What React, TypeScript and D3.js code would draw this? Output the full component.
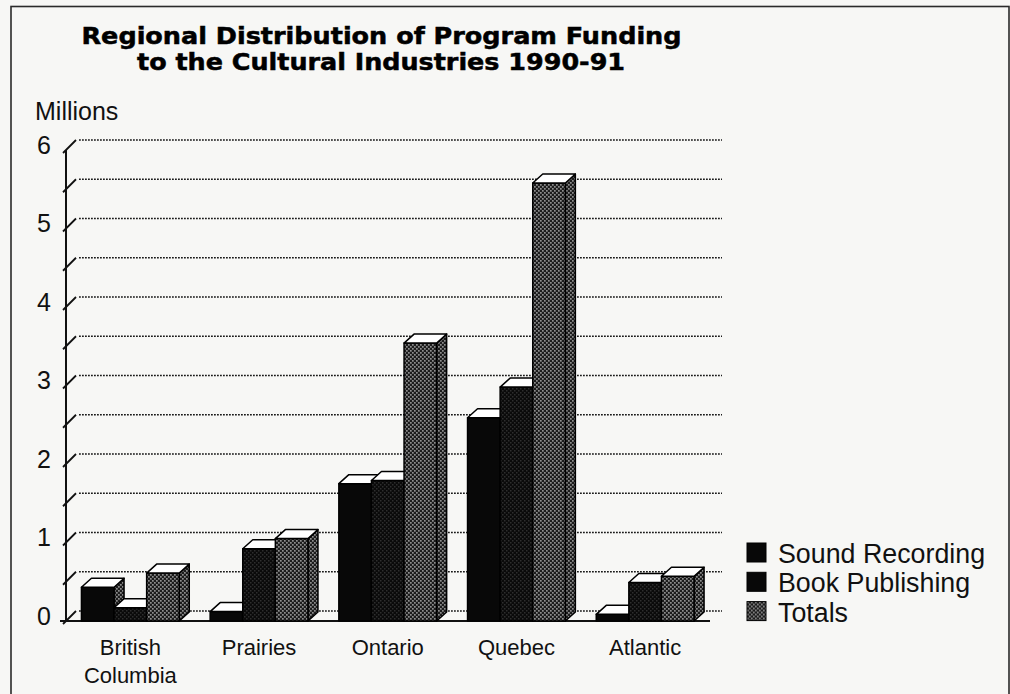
import React from "react";
import * as d3 from "d3";

// Funding by region, in millions of dollars
const regions = ["British Columbia", "Prairies", "Ontario", "Quebec", "Atlantic"];
const regionLines = [["British", "Columbia"], ["Prairies"], ["Ontario"], ["Quebec"], ["Atlantic"]];
const seriesNames = ["Sound Recording", "Book Publishing", "Totals"];
const soundRecording = [0.43, 0.12, 1.75, 2.59, 0.085];
const bookPublishing = [0.17, 0.92, 1.79, 2.98, 0.49];
const totals = [0.61, 1.05, 3.54, 5.58, 0.57];
const yTickLabels = [0, 1, 2, 3, 4, 5, 6];
const gridSteps = d3.range(0, 6.01, 0.5);

const W = 1010;
const H = 694;
const FONT = "'Liberation Sans', Arial, Helvetica, sans-serif";

export default function App() {
  const baseY = 621;
  const x = d3
    .scaleBand<string>()
    .domain(regions)
    .range([66, 709.5])
    .paddingInner(0.24)
    .paddingOuter(0.12);
  const xs = d3.scaleBand<string>().domain(seriesNames).range([0, x.bandwidth()]);
  const y = d3.scaleLinear().domain([0, 6]).range([baseY, 150]);

  const values = [soundRecording, bookPublishing, totals];
  const fronts = ["#080808", "url(#bookPat)", "url(#dotPat)"];
  const sides = ["url(#dotPat)", "url(#dotPat)", "url(#dotPat)"];

  // depth offsets for the oblique 3-D look
  const bdx = 10;
  const bdy = 9;
  const wdx = 11;
  const wdy = 10;

  const bars: { key: string; x0: number; w: number; v: number; s: number }[] = [];
  regions.forEach((r, i) => {
    seriesNames.forEach((s, j) => {
      bars.push({ key: r + s, x0: (x(r) as number) + (xs(s) as number), w: xs.bandwidth(), v: values[j][i], s: j });
    });
  });

  const axisX = 66;

  return (
    <svg width={W} height={H} style={{ position: "absolute", left: 0, top: 0 }}>
      <defs>
        <pattern id="dotPat" width="4" height="4" patternUnits="userSpaceOnUse">
          <rect width="4" height="4" fill="#1c1c1c" />
          <rect x="0" y="0" width="1.7" height="1.7" fill="#8e8e8e" />
          <rect x="2" y="2" width="1.7" height="1.7" fill="#8e8e8e" />
        </pattern>
        <pattern id="bookPat" width="4" height="4" patternUnits="userSpaceOnUse">
          <rect width="4" height="4" fill="#0a0a0a" />
          <rect x="0" y="0" width="1.5" height="1.5" fill="#2e2e2e" />
          <rect x="2" y="2" width="1.5" height="1.5" fill="#2e2e2e" />
        </pattern>
      </defs>
      <rect width={W} height={H} fill="#f7f7f5" />
      <rect x={11} y={6.5} width={998} height={700} fill="none" stroke="#2a2a2a" strokeWidth={1.6} />

      {/* title */}
      <text x={381.5} y={44} textAnchor="middle" fontFamily="'DejaVu Sans', sans-serif" fontWeight="bold" fontSize={22.5}
        textLength={600} lengthAdjust="spacingAndGlyphs" fill="#000" stroke="#000" strokeWidth={0.5}>
        Regional Distribution of Program Funding
      </text>
      <text x={381} y={70} textAnchor="middle" fontFamily="'DejaVu Sans', sans-serif" fontWeight="bold" fontSize={22.5}
        textLength={488} lengthAdjust="spacingAndGlyphs" fill="#000" stroke="#000" strokeWidth={0.5}>
        to the Cultural Industries 1990-91
      </text>

      {/* axis unit */}
      <text x={35} y={120} fontFamily={FONT} fontSize={25} fill="#111">Millions</text>

      {/* back-wall gridlines */}
      {gridSteps.map((v) => (
        <line key={"g" + v} x1={axisX + wdx + 2} x2={722} y1={y(v) - wdy} y2={y(v) - wdy}
          stroke="#1a1a1a" strokeWidth={1.6} strokeDasharray="1.8 1.2" />
      ))}

      {/* y axis with slanted ticks */}
      <line x1={axisX} x2={axisX} y1={baseY} y2={y(6)} stroke="#111" strokeWidth={2} />
      {gridSteps.map((v) => (
        <line key={"t" + v} x1={axisX - 3} y1={y(v) + 3} x2={axisX + wdx - 1} y2={y(v) - wdy}
          stroke="#111" strokeWidth={1.8} />
      ))}
      {yTickLabels.map((v) => (
        <text key={"l" + v} x={51} y={y(v) - 5} dy="0.35em" textAnchor="end" fontFamily={FONT} fontSize={25} fill="#111">
          {v}
        </text>
      ))}

      {/* baseline */}
      <line x1={60} x2={710} y1={baseY} y2={baseY} stroke="#111" strokeWidth={2} />

      {/* bars */}
      {bars.map((b) => {
        const top = y(b.v);
        const x0 = b.x0;
        const x1 = b.x0 + b.w;
        const side = `M${x1},${top} L${x1 + bdx},${top - bdy} L${x1 + bdx},${baseY - bdy} L${x1},${baseY} Z`;
        const lid = `M${x0},${top} L${x0 + bdx},${top - bdy} L${x1 + bdx},${top - bdy} L${x1},${top} Z`;
        return (
          <g key={b.key} stroke="#000" strokeWidth={1.5} strokeLinejoin="round">
            <path d={side} fill={sides[b.s]} />
            <rect x={x0} y={top} width={b.w} height={baseY - top} fill={fronts[b.s]} />
            <path d={lid} fill="#ffffff" />
          </g>
        );
      })}

      {/* category labels */}
      {regions.map((r, i) => (
        <text key={"x" + r} x={(x(r) as number) + x.bandwidth() / 2} y={655} textAnchor="middle"
          fontFamily={FONT} fontSize={22} fill="#111">
          {regionLines[i].map((ln, k) => (
            <tspan key={k} x={(x(r) as number) + x.bandwidth() / 2} dy={k === 0 ? 0 : 28}>{ln}</tspan>
          ))}
        </text>
      ))}

      {/* legend */}
      {seriesNames.map((s, j) => (
        <g key={"lg" + s} transform={`translate(747, ${543 + j * 29.3})`}>
          <rect width={19} height={19} fill={j === 2 ? "url(#dotPat)" : "#080808"} stroke="#000" strokeWidth={1} />
          <text x={31} y={20} fontFamily={FONT} fontSize={26.8} fill="#111">{s}</text>
        </g>
      ))}
    </svg>
  );
}
